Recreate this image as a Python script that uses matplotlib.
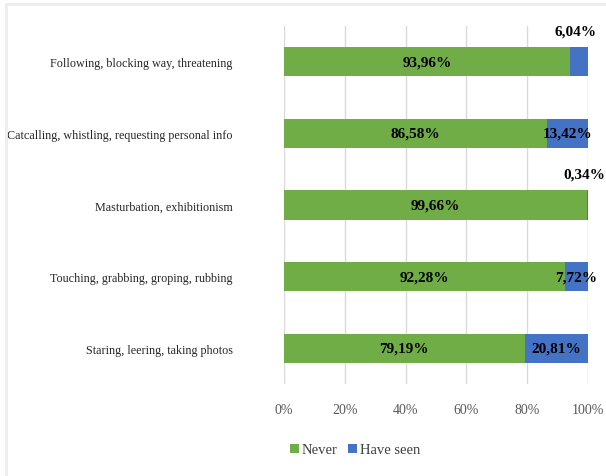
import matplotlib.pyplot as plt
from matplotlib.patches import Rectangle

plt.rcParams['font.family'] = ['Liberation Serif', 'DejaVu Serif']

categories = [
    "Following, blocking way, threatening",
    "Catcalling, whistling, requesting personal info",
    "Masturbation, exhibitionism",
    "Touching, grabbing, groping, rubbing",
    "Staring, leering, taking photos",
]
never = [93.96, 86.58, 99.66, 92.28, 79.19]
have_seen = [6.04, 13.42, 0.34, 7.72, 20.81]

green = "#70AD47"
blue = "#4472C4"

fig = plt.figure(figsize=(6.06, 4.77), dpi=100)
ax = fig.add_axes([284 / 606, 1 - 385 / 477, 304 / 606, 358 / 477])

# light frame around the chart area
fig.patches.append(Rectangle((6 / 606, -0.05), 1.2, 1 - 5 / 477 + 0.05,
                             transform=fig.transFigure, fill=False,
                             edgecolor="#EDEDED", linewidth=2))

ypos = list(range(len(categories)))
ax.barh(ypos, never, height=0.41, color=green, label="Never", zorder=2)
ax.barh(ypos, have_seen, left=never, height=0.41, color=blue,
        label="Have seen", zorder=2)

def fmt(v):
    return f"{v:.2f}".replace(".", ",") + "%"

for i, (n, h) in enumerate(zip(never, have_seen)):
    ax.text(n / 2, i, fmt(n), ha="center", va="center",
            fontsize=11, fontweight="bold", color="black", zorder=3)
    if h < 7:
        # narrow segment: label sits above the bar end
        ax.text(n + h / 2 - 1.2, i - 0.43, fmt(h), ha="center", va="center",
                fontsize=11, fontweight="bold", color="black", zorder=3)
    else:
        ax.text(n + h / 2, i, fmt(h), ha="center", va="center",
                fontsize=11, fontweight="bold", color="black", zorder=3)

ax.set_xlim(0, 100)
ax.set_ylim(4.5, -0.5)
ax.set_xticks([0, 20, 40, 60, 80, 100])
ax.set_xticklabels([f"{t}%" for t in [0, 20, 40, 60, 80, 100]])
ax.set_yticks(ypos)
ax.set_yticklabels(categories)
ax.tick_params(axis="x", length=0, pad=14, labelsize=10, labelcolor="#595959")
ax.tick_params(axis="y", length=0, pad=37, labelsize=8.7, labelcolor="#262626")
ax.xaxis.grid(True, color="#D9D9D9", linewidth=1, zorder=0)
ax.set_axisbelow(True)
for s in ax.spines.values():
    s.set_visible(False)

fig.legend(loc="center", bbox_to_anchor=(355 / 606, 1 - 451 / 477), ncol=2,
           frameon=False, fontsize=10.5, handlelength=0.6, handleheight=0.6,
           handletextpad=0.2, columnspacing=0.7, labelcolor="#404040")

fig.savefig("out.png", dpi=100)
